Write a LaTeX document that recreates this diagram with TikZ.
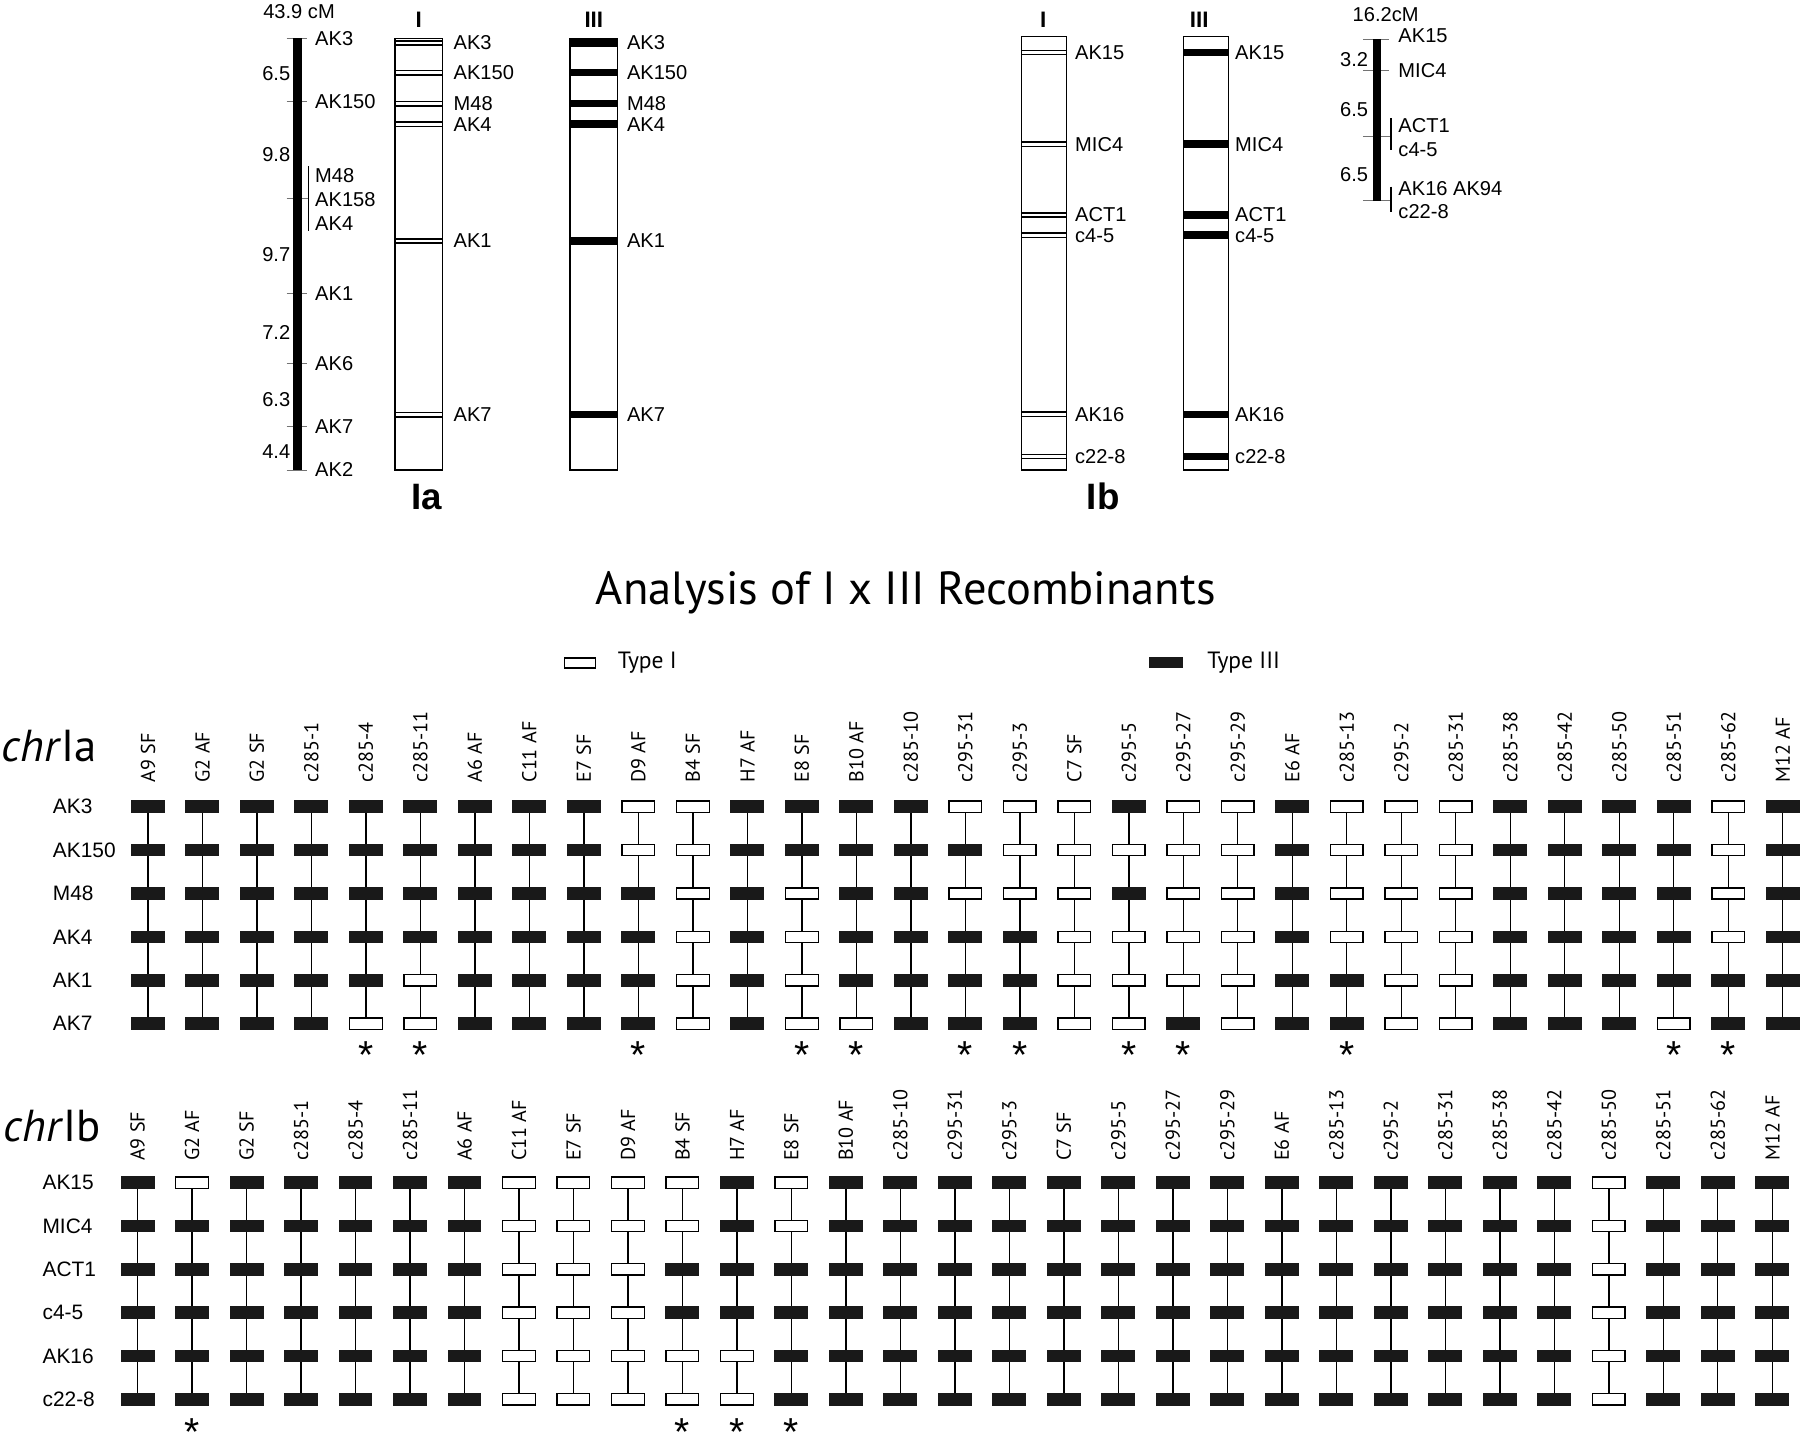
\documentclass[tikz,border=0pt]{standalone}
\usepackage{fontspec}
\setmainfont{Liberation Sans}
\newfontfamily\ptsans{PT Sans}
\usetikzlibrary{positioning}
\newcommand{\mapfont}{\fontsize{17.5}{21}\selectfont}
\newcommand{\headfont}{\fontsize{19.5}{22}\selectfont\bfseries}
\newcommand{\chrnamefont}{\fontsize{32}{36}\selectfont\bfseries}
\newcommand{\rowfont}{\fontsize{18.2}{21}\selectfont}
\newcommand{\strainfont}{\ptsans\fontsize{17.5}{21}\selectfont}
\newcommand{\keyfont}{\ptsans\fontsize{20.5}{24}\selectfont}
\newcommand{\bigfont}{\ptsans\fontsize{40.5}{46}\selectfont}
\newcommand{\chrfont}{\ptsans\fontsize{39}{44}\selectfont}
\tikzset{
    maplabel/.style={anchor=west, inner sep=0, font=\mapfont},
    distlabel/.style={anchor=east, inner sep=0, font=\mapfont},
    heading/.style={inner sep=0, font=\headfont},
    chrom/.style={draw, line width=1.3pt},
    bandI/.style={double, double distance=2.3pt, line width=1.4pt},
    bandIII/.style={line width=6.6pt},
    maptick/.style={draw=black!55, line width=0.8pt},
    bracket/.style={line width=0.9pt},
    box/.style={rectangle, inner sep=0, minimum width=28.4pt, minimum height=9.8pt, line width=1.2pt},
    g1/.style={box, draw=black, fill=white},
    g3/.style={box, draw=black!90, fill=black!90},
    link/.style={line width=1.1pt},
    rowlab/.style={anchor=west, inner sep=0, font=\rowfont},
    strain/.style={rotate=90, anchor=west, inner sep=0, font=\strainfont},
    starmark/.style={inner sep=0, font=\fontsize{34}{36}\selectfont},
}

\begin{document}
\begin{tikzpicture}[x=1pt, y=-1pt]
    \useasboundingbox (0,0) rectangle (1568,1265);

    % linkage map Ia
    \node[inner sep=0, font=\mapfont] (cmIa) at (260.5,10) {43.9 cM};
    \foreach \y/\m [count=\k] in {33.4/AK3, 88.6/AK150, 255.5/AK1, 317/AK6, 371.7/AK7, 409.4/AK2} {
        \draw[maptick] (249.7,\y) -- (267,\y);
        \node[maplabel] (mIa-\k) at (274.4,\y) {\m};
    }
    \draw[maptick] (249.7,172.8) -- (268.6,172.8);
    \draw[bracket] (268.6,145) -- (268.6,201);
    \foreach \y/\m [count=\k] in {153/M48, 174/AK158, 195/AK4}
        \node[maplabel] (gIa-\k) at (274.4,\y) {\m};
    \fill (255.4,33.4) rectangle (262.7,409.4);
    \foreach \y/\d [count=\k] in {64/6.5, 135/9.8, 222/9.7, 290/7.2, 348/6.3, 393/4.4}
        \node[distlabel] (dIa-\k) at (253,\y) {\d};

    % chromosome Ia, types I and III
    \foreach \y/\m [count=\k] in {37.5/AK3, 63.3/AK150, 90.3/M48, 108.2/AK4, 209.8/AK1, 361.2/AK7} {
        \draw[bandI] (344,\y) -- (385.6,\y);
        \node[maplabel] (bIa-\k) at (395,\y) {\m};
        \draw[bandIII] (496.5,\y) -- (538,\y);
        \node[maplabel] (cIa-\k) at (546,\y) {\m};
    }
    \draw[chrom] (344,33.4) rectangle (385.6,409.4);
    \draw[chrom] (496.5,33.4) rectangle (538,409.4);
    \node[heading] (hIa1) at (364.8,17.4) {I};
    \node[heading] (hIa3) at (517.3,17.4) {III};
    \node[inner sep=0, font=\chrnamefont] (Ia) at (371.7,432.6) {Ia};

    % chromosome Ib, types I and III
    \foreach \y/\m [count=\k] in {45.7/AK15, 125.6/MIC4, 187.3/ACT1, 204.9/c4-5, 361/AK16, 397.7/c22-8} {
        \draw[bandI] (890,\y) -- (929,\y);
        \node[maplabel] (bIb-\k) at (936.4,\y) {\m};
        \draw[bandIII] (1030.8,\y) -- (1070.3,\y);
        \node[maplabel] (cIb-\k) at (1075.8,\y) {\m};
    }
    \draw[chrom] (890,31.9) rectangle (929,409.4);
    \draw[chrom] (1030.8,31.9) rectangle (1070.3,409.4);
    \node[heading] (hIb1) at (908.7,17.4) {I};
    \node[heading] (hIb3) at (1044.7,17.4) {III};
    \node[inner sep=0, font=\chrnamefont] (Ib) at (961,432.6) {Ib};

    % linkage map Ib
    \node[inner sep=0, font=\mapfont] (cmIb) at (1207,13) {16.2cM};
    \draw[maptick] (1187.2,34.3) -- (1209.8,34.3);
    \draw[maptick] (1187.2,61.8) -- (1209.8,61.8);
    \draw[maptick] (1187.2,118.5) -- (1211.7,118.5);
    \draw[maptick] (1187.2,174.8) -- (1211.7,174.8);
    \draw[bracket] (1211.7,103) -- (1211.7,130.7);
    \draw[bracket] (1211.7,162.6) -- (1211.7,184.4);
    \fill (1195.7,34.3) rectangle (1202.7,174.8);
    \foreach \y/\m [count=\k] in {31.4/AK15, 61.8/MIC4, 109/ACT1, 130.7/c4-5, 164/AK16 AK94, 184.4/c22-8}
        \node[maplabel] (mIb-\k) at (1218,\y) {\m};
    \foreach \y/\d [count=\k] in {52.3/3.2, 95.8/6.5, 152.4/6.5}
        \node[distlabel] (dIb-\k) at (1192,\y) {\d};

    % title and key
    \node[anchor=base, inner sep=0, font=\bigfont] (title) at (789,527) {Analysis of I x III Recombinants};
    \node[g1, minimum width=27pt, minimum height=8.8pt] (keyI) at (505,577.5) {};
    \node[anchor=west, inner sep=0, font=\keyfont, right=19pt of keyI] (keyIt) {Type I};
    \node[g3, minimum width=28pt, minimum height=8.8pt] (keyIII) at (1015.5,577) {};
    \node[anchor=west, inner sep=0, font=\keyfont, right=21.5pt of keyIII] (keyIIIt) {Type III};

    % strains
    \foreach \s [count=\c] in {A9 SF,G2 AF,G2 SF,c285-1,c285-4,c285-11,A6 AF,C11 AF,E7 SF,D9 AF,%
        B4 SF,H7 AF,E8 SF,B10 AF,c285-10,c295-31,c295-3,C7 SF,c295-5,c295-27,c295-29,E6 AF,%
        c285-13,c295-2,c285-31,c285-38,c285-42,c285-50,c285-51,c285-62,M12 AF} {
        \node[strain] (ta-\c) at ({128.9+47.47*(\c-1)},681.8) {\s};
        \node[strain] (tb-\c) at ({119.8+47.47*(\c-1)},1011.4) {\s};
    }

    % chrIa
    \node[anchor=base west, inner sep=0, font=\chrfont] (chra) at (1.5,663) {\textit{chr}Ia};
    \foreach \m [count=\r] in {AK3,AK150,M48,AK4,AK1,AK7}
        \node[rowlab] (ra-\r) at (45.9,{702.7+37.8*(\r-1)}) {\m};
    \foreach \gt [count=\c] in {{3,3,3,3,3,3},{3,3,3,3,3,3},{3,3,3,3,3,3},{3,3,3,3,3,3},
        {3,3,3,3,3,1},{3,3,3,3,1,1},{3,3,3,3,3,3},{3,3,3,3,3,3},{3,3,3,3,3,3},{1,1,3,3,3,3},
        {1,1,1,1,1,1},{3,3,3,3,3,3},{3,3,1,1,1,1},{3,3,3,3,3,1},{3,3,3,3,3,3},{1,3,1,3,3,3},
        {1,1,1,3,3,3},{1,1,1,1,1,1},{3,1,3,1,1,1},{1,1,1,1,1,3},{1,1,1,1,1,1},{3,3,3,3,3,3},
        {1,1,1,1,3,3},{1,1,1,1,1,1},{1,1,1,1,1,1},{3,3,3,3,3,3},{3,3,3,3,3,3},{3,3,3,3,3,3},
        {3,3,3,3,3,1},{1,1,1,1,3,3},{3,3,3,3,3,3}} {
        \foreach \g [count=\r] in \gt
            \node[g\g] (a-\c-\r) at ({128.9+47.47*(\c-1)},{702.7+37.8*(\r-1)}) {};
        \foreach \r [evaluate=\r as \s using int(\r+1)] in {1,...,5}
            \draw[link] (a-\c-\r) -- (a-\c-\s);
    }
    \foreach \c in {5,6,10,13,14,16,17,19,20,23,29,30}
        \node[starmark, below=10pt of a-\c-6] (xa-\c) {*};

    % chrIb
    \node[anchor=base west, inner sep=0, font=\chrfont] (chrb) at (2.9,994.5) {\textit{chr}Ib};
    \foreach \m [count=\r] in {AK15,MIC4,ACT1,c4-5,AK16,c22-8}
        \node[rowlab] (rb-\r) at (36.9,{1030.3+37.75*(\r-1)}) {\m};
    \foreach \gt [count=\c] in {{3,3,3,3,3,3},{1,3,3,3,3,3},{3,3,3,3,3,3},{3,3,3,3,3,3},
        {3,3,3,3,3,3},{3,3,3,3,3,3},{3,3,3,3,3,3},{1,1,1,1,1,1},{1,1,1,1,1,1},{1,1,1,1,1,1},
        {1,1,3,3,1,1},{3,3,3,3,1,1},{1,1,3,3,3,3},{3,3,3,3,3,3},{3,3,3,3,3,3},{3,3,3,3,3,3},
        {3,3,3,3,3,3},{3,3,3,3,3,3},{3,3,3,3,3,3},{3,3,3,3,3,3},{3,3,3,3,3,3},{3,3,3,3,3,3},
        {3,3,3,3,3,3},{3,3,3,3,3,3},{3,3,3,3,3,3},{3,3,3,3,3,3},{3,3,3,3,3,3},{1,1,1,1,1,1},
        {3,3,3,3,3,3},{3,3,3,3,3,3},{3,3,3,3,3,3}} {
        \foreach \g [count=\r] in \gt
            \node[g\g] (b-\c-\r) at ({119.8+47.47*(\c-1)},{1030.3+37.75*(\r-1)}) {};
        \foreach \r [evaluate=\r as \s using int(\r+1)] in {1,...,5}
            \draw[link] (b-\c-\r) -- (b-\c-\s);
    }
    \foreach \c in {2,11,12,13}
        \node[starmark, below=11pt of b-\c-6] (xb-\c) {*};
\end{tikzpicture}
\end{document}
